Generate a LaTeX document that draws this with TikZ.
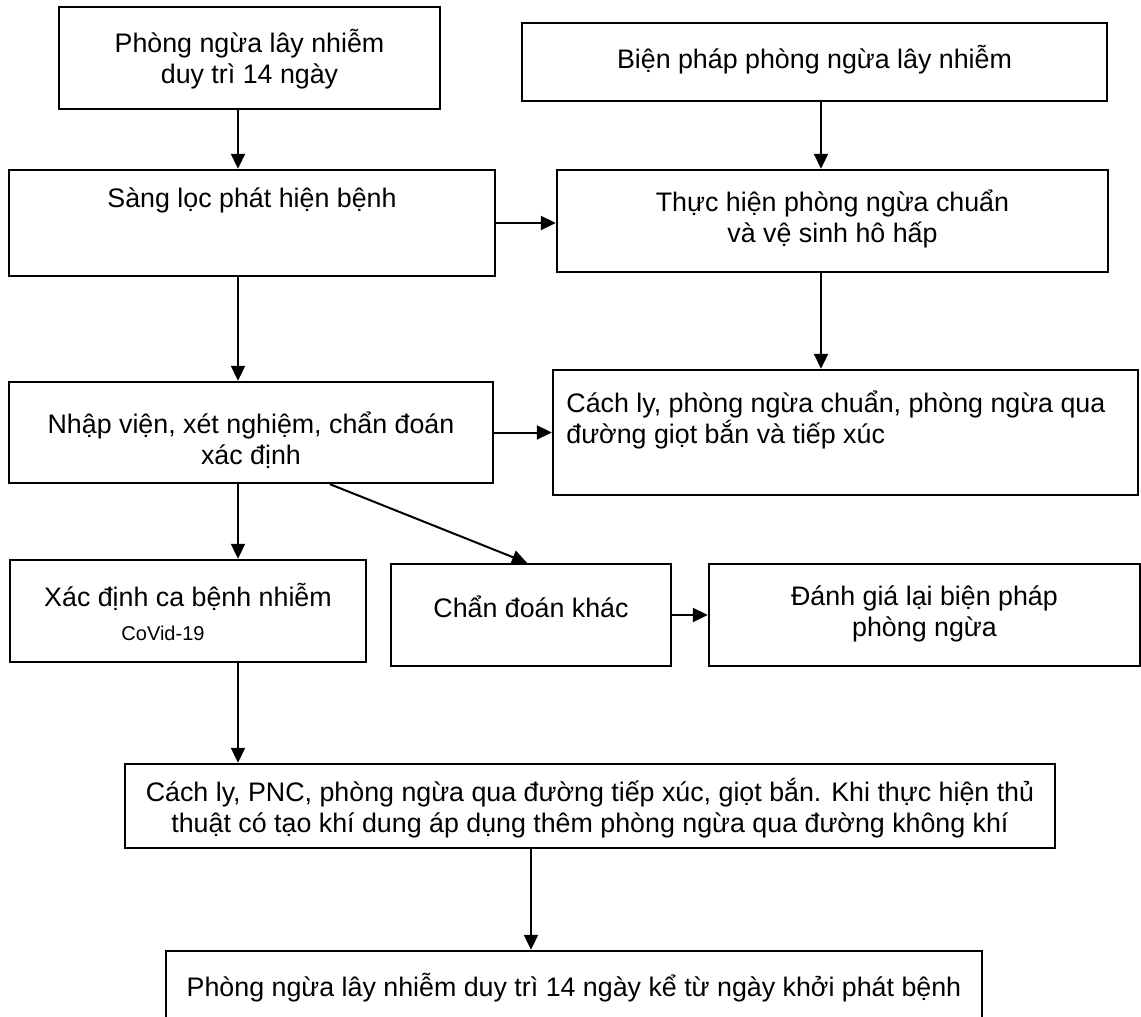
\documentclass[tikz,border=0pt]{standalone}
\usepackage{fontspec}
\setmainfont{Liberation Sans}
\usetikzlibrary{arrows.meta}

\tikzset{
  box/.style 2 args={draw=black, line width=1.2pt, inner sep=0pt,
    minimum width=#1*0.5pt, minimum height=#2*0.5pt},
  txt/.style={align=center, inner sep=0pt, font=\fontsize{13.4}{15.5}\selectfont},
  small/.style={inner sep=0pt, font=\fontsize{10}{12}\selectfont},
  arr/.style={line width=1pt, -{Triangle[length=7.5pt,width=7pt]}}
}

\begin{document}
\begin{tikzpicture}[x=0.5pt, y=-0.5pt]
        \useasboundingbox (0,0) rectangle (1141,1017);
        % Cac hop
        \node[box={381}{102}] (pre) at (249.5,58) {};
        \node[box={585}{78}]  (mea) at (814.5,62) {};
        \node[box={486}{106}] (scr) at (252,223) {};
        \node[box={551}{102}] (std) at (832.5,221) {};
        \node[box={484}{101}] (adm) at (251,432.5) {};
        \node[box={585}{125}] (iso) at (845.5,432.5) {};
        \node[box={356}{102}] (cov) at (188,611) {};
        \node[box={280}{102}] (oth) at (531,615) {};
        \node[box={431}{102}] (rev) at (924.5,615) {};
        \node[box={930}{84}]  (pnc) at (590,806) {};
        \node[box={816}{89}]  (fin) at (574,995.5) {};
        % Chu trong cac hop
        \node[txt] (pret) at (249.5,59) {Phòng ngừa lây nhiễm\\duy trì 14 ngày};
        \node[txt] (meat) at (814.5,60) {Biện pháp phòng ngừa lây nhiễm};
        \node[txt] (scrt) at (252,200) {Sàng lọc phát hiện bệnh};
        \node[txt] (stdt) at (832.5,219) {Thực hiện phòng ngừa chuẩn\\và vệ sinh hô hấp};
        \node[txt] (admt) at (251,440) {Nhập viện, xét nghiệm, chẩn đoán\\xác định};
        \node[txt, align=left, anchor=west] (isot) at (566,420) {Cách ly, phòng ngừa chuẩn, phòng ngừa qua\\đường giọt bắn và tiếp xúc};
        \node[txt] (covt) at (188,597) {Xác định ca bệnh nhiễm};
        \node[small] (covn) at (163,633) {CoVid-19};
        \node[txt] (otht) at (531,607) {Chẩn đoán khác};
        \node[txt] (revt) at (924.5,614) {Đánh giá lại biện pháp\\phòng ngừa};
        \node[txt] (pnct) at (590,808) {Cách ly, PNC, phòng ngừa qua đường tiếp xúc, giọt bắn. Khi thực hiện thủ\\thuật có tạo khí dung áp dụng thêm phòng ngừa qua đường không khí};
        \node[txt] (fint) at (574,988) {Phòng ngừa lây nhiễm duy trì 14 ngày kể từ ngày khởi phát bệnh};
        % Duong di cua mui ten
        \coordinate (lane) at (238,0);
        \coordinate (rlane) at (821,0);
        \coordinate (dlane) at (531,0);
        \coordinate (dgA) at (330,0);
        \coordinate (dgB) at (527,0);
        % Mui ten
        \draw[arr] (pre.south -| lane) -- (scr.north -| lane);
        \draw[arr] (mea.south -| rlane) -- (std.north -| rlane);
        \draw[arr] (scr.east) -- (scr.east -| std.west);
        \draw[arr] (scr.south -| lane) -- (adm.north -| lane);
        \draw[arr] (std.south -| rlane) -- (iso.north -| rlane);
        \draw[arr] (adm.east) -- (adm.east -| iso.west);
        \draw[arr] (adm.south -| lane) -- (cov.north -| lane);
        \draw[arr] (adm.south -| dgA) -- (oth.north -| dgB);
        \draw[arr] (oth.east) -- (oth.east -| rev.west);
        \draw[arr] (cov.south -| lane) -- (pnc.north -| lane);
        \draw[arr] (pnc.south -| dlane) -- (fin.north -| dlane);
    \end{tikzpicture}
\end{document}
